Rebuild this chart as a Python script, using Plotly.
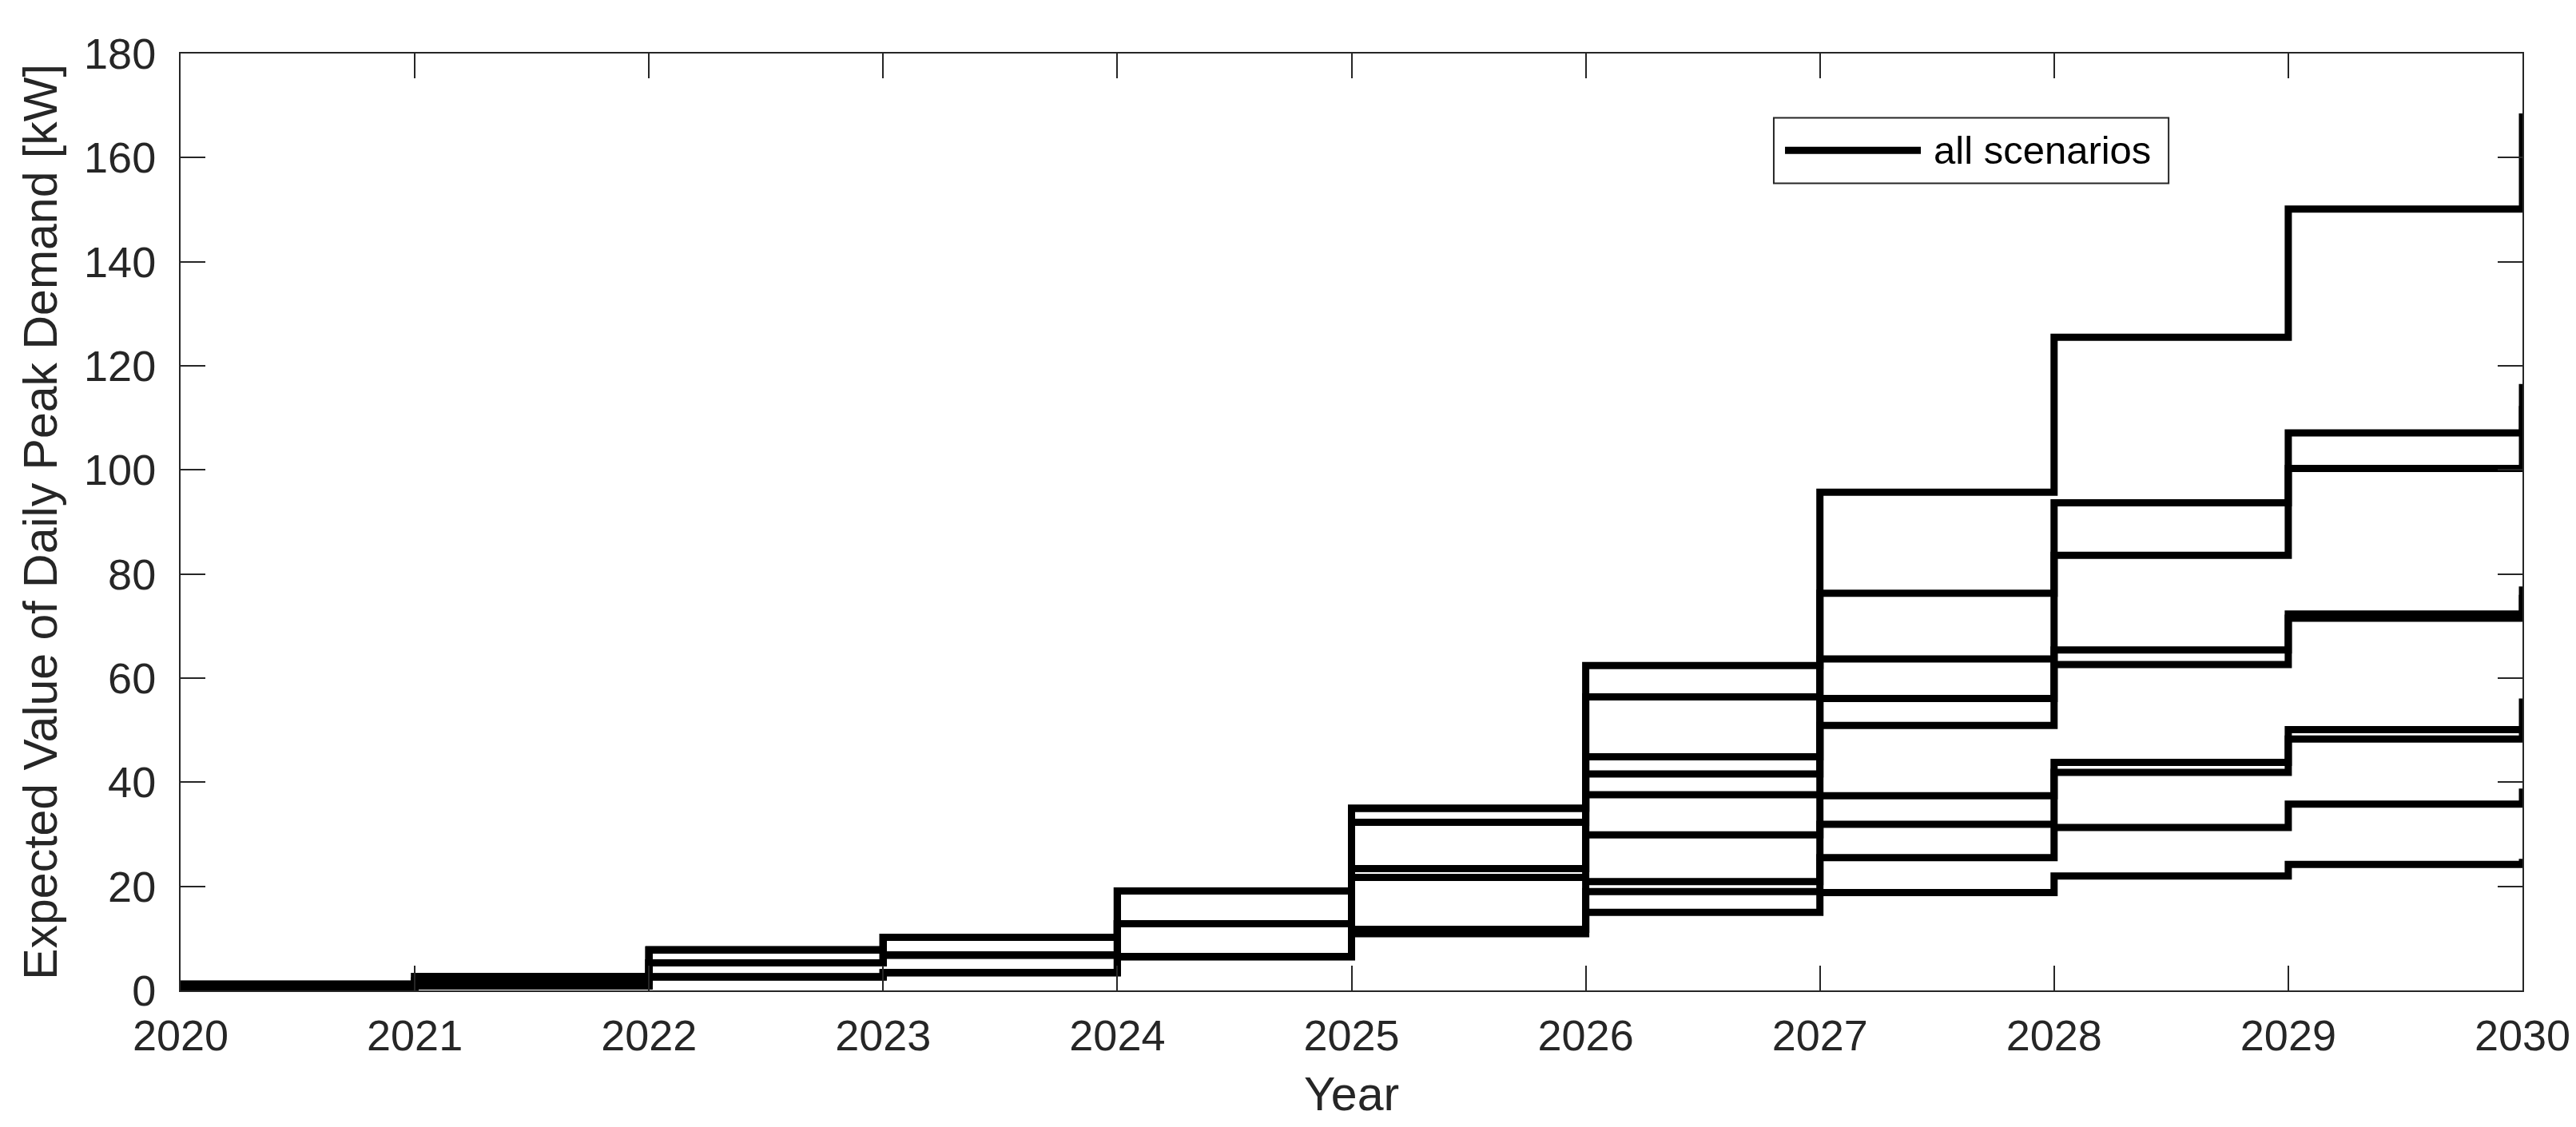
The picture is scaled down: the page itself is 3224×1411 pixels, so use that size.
import plotly.graph_objects as go

# ---- data ----
years = [2020, 2021, 2022, 2023, 2024, 2025, 2026, 2027, 2028, 2029, 2030]

scenario_1 = [1.2, 2.7, 7.8, 10.2, 19.1, 35.0, 62.4, 95.7, 125.5, 150.1, 168.5]
scenario_2 = [1.2, 2.7, 7.8, 10.2, 19.1, 35.0, 56.4, 76.3, 93.7, 107.1, 116.5]
scenario_3 = [1.2, 2.7, 7.8, 10.2, 19.1, 32.3, 44.9, 56.1, 65.4, 72.3, 76.0]
scenario_4 = [0.8, 1.8, 5.3, 6.8, 12.8, 23.4, 41.6, 63.7, 83.6, 100.3, 112.3]
scenario_5 = [0.8, 1.8, 5.3, 6.8, 12.8, 23.4, 37.6, 50.9, 62.6, 71.5, 77.6]
scenario_6 = [0.8, 1.8, 5.3, 6.8, 12.8, 21.7, 29.9, 37.4, 43.8, 48.3, 50.6]
scenario_7 = [0.4, 0.9, 2.6, 3.4, 6.5, 11.7, 20.9, 31.9, 41.9, 50.1, 56.1]
scenario_8 = [0.4, 0.9, 2.6, 3.4, 6.5, 11.7, 19.0, 25.5, 31.3, 35.8, 38.8]
scenario_9 = [0.4, 0.9, 2.6, 3.4, 6.5, 10.9, 15.0, 18.8, 22.0, 24.2, 25.3]

scenarios = [scenario_1, scenario_2, scenario_3, scenario_4, scenario_5,
             scenario_6, scenario_7, scenario_8, scenario_9]

y_ticks = [0, 20, 40, 60, 80, 100, 120, 140, 160, 180]
legend_label = "all scenarios"

# ---- figure ----
AX = "#262626"
FONT = "Liberation Sans, Arial, Helvetica, sans-serif"

fig = go.Figure()
for s in scenarios:
    fig.add_trace(go.Scatter(
        x=years, y=s, mode="lines",
        line=dict(color="black", width=9, shape="hv"),
        showlegend=False, hoverinfo="skip",
    ))

axis_common = dict(
    showline=True, linecolor=AX, linewidth=2, mirror="ticks",
    ticks="inside", ticklen=31, tickwidth=2, tickcolor=AX,
    showgrid=False, zeroline=False,
    tickfont=dict(family=FONT, size=54, color=AX),
)

fig.update_layout(
    width=3224, height=1411, autosize=False,
    margin=dict(l=218, r=75, t=59, b=179),
    paper_bgcolor="white", plot_bgcolor="white",
    font=dict(family=FONT, color=AX),
    xaxis=dict(range=[2020, 2030], tickvals=years, ticklabelstandoff=8,
               title=dict(text="Year", font=dict(family=FONT, size=59, color=AX), standoff=24),
               **axis_common),
    yaxis=dict(range=[0, 180], tickvals=y_ticks, ticklabelstandoff=18,
               title=dict(text="Expected Value of Daily Peak Demand [kW]",
                          font=dict(family=FONT, size=59, color=AX), standoff=14),
               **axis_common),
    showlegend=False,
)

# custom legend box (MATLAB style)
fig.add_shape(type="rect", xref="paper", yref="paper",
              x0=0.6803, x1=0.8489, y0=0.8615, y1=0.9314,
              line=dict(color=AX, width=2), fillcolor="white", layer="above")
fig.add_shape(type="line", xref="paper", yref="paper",
              x0=0.6851, x1=0.7431, y0=0.8966, y1=0.8966,
              line=dict(color="black", width=9), layer="above")
fig.add_annotation(text=legend_label, xref="paper", yref="paper",
                   x=0.7479, y=0.8966, xanchor="left", yanchor="middle",
                   showarrow=False, font=dict(family=FONT, size=49, color="black"))

fig.write_html("out.html")
